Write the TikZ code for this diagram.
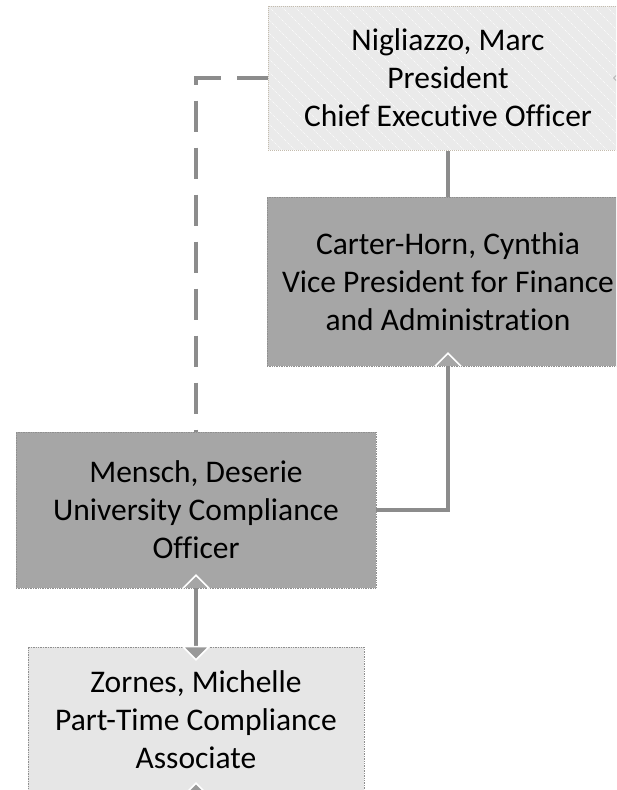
\documentclass[tikz,border=0pt]{standalone}
\usepackage{fontspec}
\setmainfont{Carlito}[Ligatures=NoCommon]
\usetikzlibrary{calc}
\definecolor{conncol}{HTML}{8C8C8C}
\definecolor{darkfill}{HTML}{A6A6A6}
\definecolor{lightfill}{HTML}{E6E6E6}
\definecolor{hatchfill}{HTML}{EAEAEA}
\definecolor{topborder}{HTML}{C4BCAE}
\definecolor{boxborder}{HTML}{8F8F8F}
\definecolor{trifill}{HTML}{999999}
\tikzset{
  orgbox/.style={rectangle, align=center, inner sep=0pt,
    font=\fontsize{31.5}{38}\selectfont, text=black},
  darkbox/.style={orgbox, fill=darkfill, draw=boxborder, densely dotted, line width=0.7pt},
  lightbox/.style={orgbox, fill=lightfill, draw=boxborder, densely dotted, line width=0.7pt},
  hatchbox/.style={orgbox, fill=hatchfill, draw=topborder, densely dotted, line width=1pt,
    path picture={
      \foreach \i in {-40,...,40}
        \draw[white, line width=0.6pt]
          ($(path picture bounding box.north west)+(\i*13pt,0pt)$) -- ++(220pt,-220pt);
    }},
  conn/.style={draw=conncol, line width=3.5pt},
  dashconn/.style={draw=conncol, line width=3.8pt, dash pattern=on 31pt off 16pt},
  chevron/.style={draw=white, line width=1.6pt},
  filltri/.style={fill=trifill, draw=white, line width=1.6pt},
}
\begin{document}
\begin{tikzpicture}[x=1pt, y=-1pt]
\useasboundingbox (0,0) rectangle (616,790);
\clip (0,0) rectangle (616,790);
\fill[white] (0,0) rectangle (616,790);

\node[hatchbox, minimum width=360pt, minimum height=144pt] (ceo) at (448,78)
  {Nigliazzo, Marc\\President\\Chief Executive Officer};
\node[darkbox, minimum width=362pt, minimum height=169pt] (vpf) at (448,281.5)
  {Carter-Horn, Cynthia\\Vice President for Finance\\and Administration};
\node[darkbox, minimum width=360pt, minimum height=156pt] (uco) at (196,510)
  {Mensch, Deserie\\University Compliance\\Officer};
\node[lightbox, minimum width=336pt, minimum height=146pt] (pta) at (196,720)
  {Zornes, Michelle\\Part-Time Compliance\\Associate};

% connectors
\draw[conn] (ceo.south) -- (vpf.north);
\draw[conn] (uco.east) -| (vpf.south);
\draw[conn] (uco.south) -- (pta.north);
\draw[dashconn] (ceo.west) -| (uco.north);

% arrowheads
\draw[chevron] ([xshift=-13pt]vpf.south) -- ([yshift=13pt]vpf.south) -- ([xshift=13pt]vpf.south);
\draw[chevron] ([xshift=-13pt]uco.south) -- ([yshift=13pt]uco.south) -- ([xshift=13pt]uco.south);
\draw[filltri] ([xshift=-13pt]pta.north) -- ([yshift=-13pt]pta.north) -- ([xshift=13pt]pta.north) -- cycle;
\draw[filltri] ([xshift=-13pt,yshift=-3pt]pta.south) -- ([yshift=10pt]pta.south) -- ([xshift=13pt,yshift=-3pt]pta.south) -- cycle;
\draw[draw=conncol!60, line width=1pt] ([xshift=-2pt,yshift=12pt]ceo.east) -- ([xshift=-15pt]ceo.east) -- ([xshift=-2pt,yshift=-12pt]ceo.east);
\end{tikzpicture}
\end{document}
